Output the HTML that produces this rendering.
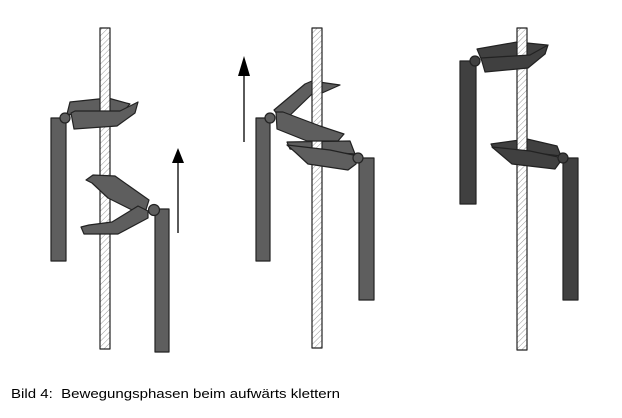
<!DOCTYPE html>
<html><head><meta charset="utf-8"><style>html,body{margin:0;padding:0;background:#fff;}svg{display:block}</style></head>
<body>
<svg width="622" height="418" viewBox="0 0 622 418" xmlns="http://www.w3.org/2000/svg">
<defs>
<pattern id="h" width="4" height="4" patternUnits="userSpaceOnUse" patternTransform="rotate(45)">
<rect width="4" height="4" fill="#fff"/><line x1="0" y1="0" x2="0" y2="4" stroke="#999" stroke-width="1"/>
</pattern>
</defs>
<g stroke="#222" stroke-width="1.2" stroke-linejoin="round">
<!-- Panel 1 -->
<polygon points="67,114 70,102 108,98 130,104 122,113 73,115" fill="#5e5e5e"/>
<rect x="100" y="28" width="10" height="321" fill="url(#h)"/>
<polygon points="86,180 93,175 115,176 149,200 144,216 108,198 92,183" fill="#5e5e5e"/>
<rect x="51" y="118" width="15" height="143" fill="#5e5e5e"/>
<polygon points="71,113 74,129 117,126 135,113 138,102 120,111 75,111" fill="#5e5e5e"/>
<circle cx="65" cy="118" r="5" fill="#5e5e5e"/>
<rect x="155" y="209" width="14" height="143" fill="#5e5e5e"/>
<polygon points="81,227 89,225 112,222 138,206 148,211 148,218 118,234 84,234" fill="#5e5e5e"/>
<circle cx="154" cy="210" r="5.5" fill="#5e5e5e"/>
<!-- Panel 2 -->
<polygon points="287,142 350,141 355,154 307,151 290,149" fill="#5e5e5e"/>
<polygon points="274,110 305,84 312,81 340,85 322,93 312,94 283,122" fill="#5e5e5e"/>
<rect x="312" y="28" width="10" height="320" fill="url(#h)"/>
<rect x="256" y="118" width="14" height="143" fill="#5e5e5e"/>
<polygon points="276,112 283,112 320,126 344,134 338,141 307,141 277,129" fill="#5e5e5e"/>
<circle cx="270" cy="118" r="5" fill="#5e5e5e"/>
<rect x="359" y="158" width="15" height="142" fill="#5e5e5e"/>
<polygon points="287,145 295,152 308,164 348,170 356,164 358,156 330,150" fill="#5e5e5e"/>
<circle cx="358" cy="158" r="5" fill="#5e5e5e"/>
<!-- Panel 3 -->
<polygon points="477,49 517,42 547,45 545,54 482,61" fill="#404040"/>
<polygon points="491,144 527,139 557,146 561,156 493,148" fill="#404040"/>
<rect x="517" y="28" width="10" height="322" fill="url(#h)"/>
<rect x="460" y="61" width="16" height="143" fill="#404040"/>
<polygon points="481,58 485,72 528,68 545,54 548,45 530,55" fill="#404040"/>
<circle cx="475" cy="61" r="5" fill="#404040"/>
<rect x="563" y="158" width="15" height="142" fill="#404040"/>
<polygon points="492,147 512,164 555,169 563,158 530,151" fill="#404040"/>
<circle cx="563" cy="158" r="5" fill="#404040"/>
</g>
<!-- arrows -->
<line x1="178" y1="233" x2="178" y2="158" stroke="#000" stroke-width="1.3"/>
<polygon points="178,148 172,163 184,163" fill="#000"/>
<line x1="244" y1="142" x2="244" y2="66" stroke="#000" stroke-width="1.3"/>
<polygon points="244,56 238,76 250,76" fill="#000"/>
<text x="11" y="398" font-family="Liberation Sans, Arial, sans-serif" font-size="13" fill="#000" textLength="329" lengthAdjust="spacingAndGlyphs" xml:space="preserve">Bild 4:  Bewegungsphasen beim aufwärts klettern</text>
</svg>
</body></html>
